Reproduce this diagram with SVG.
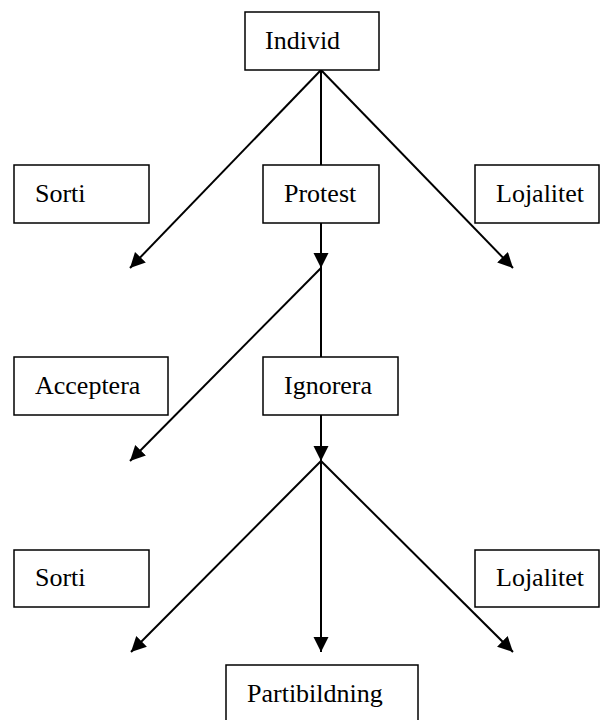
<svg xmlns="http://www.w3.org/2000/svg" width="600" height="720" viewBox="0 0 600 720">
<style>
.box{fill:#fff;stroke:#000;stroke-width:1.5}
.lbl{font-family:"Liberation Serif","Times New Roman",serif;font-size:26px;fill:#000}
.ln{stroke:#000;stroke-width:2;fill:none}
.arr{marker-end:url(#ah)}
</style>
<defs>
<marker id="ah" markerUnits="userSpaceOnUse" markerWidth="16" markerHeight="16" refX="15" refY="7.5" orient="auto">
<path d="M0,0 L15,7.5 L0,15 z" fill="#000"/>
</marker>
</defs>
<rect width="600" height="720" fill="#fff"/>
<g id="connectors">
<line class="ln arr" x1="321" y1="70" x2="130" y2="268"/>
<line class="ln" x1="321" y1="70" x2="321" y2="165"/>
<line class="ln arr" x1="321" y1="70" x2="513" y2="268"/>
<line class="ln arr" x1="321" y1="223" x2="321" y2="268"/>
<line class="ln arr" x1="321" y1="268" x2="130" y2="461"/>
<line class="ln" x1="321" y1="268" x2="321" y2="357"/>
<line class="ln arr" x1="321" y1="415" x2="321" y2="461"/>
<line class="ln arr" x1="321" y1="461" x2="131" y2="652"/>
<line class="ln arr" x1="321" y1="461" x2="321" y2="652"/>
<line class="ln arr" x1="321" y1="461" x2="513" y2="652"/>
</g>
<g id="individ"><rect class="box" x="245" y="12" width="134" height="58"/><text class="lbl" x="265" y="49">Individ</text></g>
<g id="sorti1"><rect class="box" x="14" y="165" width="135" height="58"/><text class="lbl" x="35" y="202">Sorti</text></g>
<g id="protest"><rect class="box" x="263" y="165" width="116" height="58"/><text class="lbl" x="284" y="202">Protest</text></g>
<g id="lojalitet1"><rect class="box" x="475" y="165" width="124" height="58"/><text class="lbl" x="496" y="202">Lojalitet</text></g>
<g id="acceptera"><rect class="box" x="14" y="357" width="154" height="58"/><text class="lbl" x="35" y="394">Acceptera</text></g>
<g id="ignorera"><rect class="box" x="263" y="357" width="135" height="58"/><text class="lbl" x="284" y="394">Ignorera</text></g>
<g id="sorti2"><rect class="box" x="14" y="550" width="135" height="57"/><text class="lbl" x="35" y="586">Sorti</text></g>
<g id="lojalitet2"><rect class="box" x="475" y="550" width="124" height="57"/><text class="lbl" x="496" y="586">Lojalitet</text></g>
<g id="partibildning"><rect class="box" x="226" y="665" width="192" height="58"/><text class="lbl" x="247" y="702">Partibildning</text></g>
</svg>
